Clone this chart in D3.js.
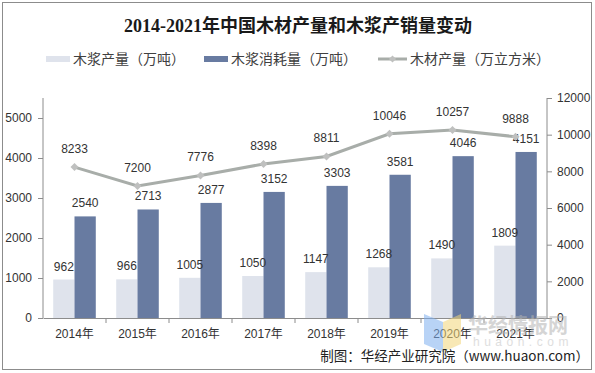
<!DOCTYPE html>
<html>
<head>
<meta charset="utf-8">
<script src="https://cdn.jsdelivr.net/npm/d3@7"></script>
<style>
  body { margin: 0; background: #fff; }
  svg text { font-family: "Liberation Sans", Arial, "Noto Sans CJK SC", sans-serif; }
</style>
</head>
<body>
<div id="chart"></div>
<script>
// data
const years = ['2014年', '2015年', '2016年', '2017年', '2018年', '2019年', '2020年', '2021年'];
const pulpOutput = [962, 966, 1005, 1050, 1147, 1268, 1490, 1809];        // 木浆产量（万吨）
const pulpConsumption = [2540, 2713, 2877, 3152, 3303, 3581, 4046, 4151];  // 木浆消耗量（万吨）
const woodOutput = [8233, 7200, 7776, 8398, 8811, 10046, 10257, 9888];    // 木材产量（万立方米）
const leftTicks = [0, 1000, 2000, 3000, 4000, 5000];
const rightTicks = [0, 2000, 4000, 6000, 8000, 10000, 12000];

const width = 595, height = 373;
const lightColor = '#dfe3ec', darkColor = '#687ba1';
const lineColor = '#a8ada9', markerColor = '#bfc0bf';
const axisColor = '#8c8c8c', textColor = '#333';

const svg = d3.select('#chart').append('svg')
  .attr('width', width)
  .attr('height', height);

// outer frame
svg.append('rect')
  .attr('x', 2.5).attr('y', 2.5)
  .attr('width', 589).attr('height', 367)
  .attr('fill', 'none').attr('stroke', axisColor);

// scales
const x = d3.scaleBand().domain(years).range([43, 547]).paddingInner(0).paddingOuter(0);
const xSub = d3.scaleBand().domain(['pulp', 'cons']).range([0, x.bandwidth()])
  .paddingInner(0).paddingOuter(0.48);
const yLeft = d3.scaleLinear().domain([0, 5500]).range([318, 98]);
const yRight = d3.scaleLinear().domain([0, 12000]).range([318, 98]);

// title
svg.append('text')
  .attr('x', 298).attr('y', 32)
  .attr('text-anchor', 'middle')
  .style('font-family', '"Liberation Serif", "Noto Sans CJK SC", serif')
  .style('font-size', '18px').style('font-weight', 'bold')
  .attr('fill', '#1a1a1a')
  .text('2014-2021年中国木材产量和木浆产销量变动');

// legend
const legend = svg.append('g').style('font-family', '"Noto Sans CJK SC", sans-serif');
const legY = 59;
legend.append('rect').attr('x', 46).attr('y', legY - 3).attr('width', 24).attr('height', 6).attr('fill', lightColor);
legend.append('text').attr('x', 73).attr('y', legY + 5).style('font-size', '14px').attr('fill', '#404040').text('木浆产量（万吨）');
legend.append('rect').attr('x', 204).attr('y', legY - 3).attr('width', 24).attr('height', 6).attr('fill', darkColor);
legend.append('text').attr('x', 231).attr('y', legY + 5).style('font-size', '14px').attr('fill', '#404040').text('木浆消耗量（万吨）');
legend.append('line').attr('x1', 378).attr('x2', 407).attr('y1', legY).attr('y2', legY)
  .attr('stroke', lineColor).attr('stroke-width', 3);
legend.append('path').attr('d', d3.symbol(d3.symbolSquare, 26)())
  .attr('transform', `translate(392.5,${legY}) rotate(45)`).attr('fill', markerColor);
legend.append('text').attr('x', 410).attr('y', legY + 5).style('font-size', '14px').attr('fill', '#404040').text('木材产量（万立方米）');

// bars
const groups = svg.append('g').selectAll('g')
  .data(years)
  .join('g')
  .attr('transform', d => `translate(${x(d)},0)`);

groups.append('rect')
  .attr('x', xSub('pulp'))
  .attr('y', (d, i) => yLeft(pulpOutput[i]))
  .attr('width', xSub.bandwidth())
  .attr('height', (d, i) => yLeft(0) - yLeft(pulpOutput[i]))
  .attr('fill', lightColor);

groups.append('rect')
  .attr('x', xSub('cons'))
  .attr('y', (d, i) => yLeft(pulpConsumption[i]))
  .attr('width', xSub.bandwidth())
  .attr('height', (d, i) => yLeft(0) - yLeft(pulpConsumption[i]))
  .attr('fill', darkColor);

// axes
const axLeft = svg.append('g')
  .attr('transform', 'translate(43,0)')
  .call(d3.axisLeft(yLeft).tickValues(leftTicks).tickFormat(d3.format('d')).tickSize(5).tickPadding(6));
const axRight = svg.append('g')
  .attr('transform', 'translate(547,0)')
  .call(d3.axisRight(yRight).tickValues(rightTicks).tickFormat(d3.format('d')).tickSize(5).tickPadding(5));
const axBottom = svg.append('g')
  .attr('transform', 'translate(0,318)')
  .call(d3.axisBottom(x).tickSize(0).tickPadding(11));

[axLeft, axRight, axBottom].forEach(ax => {
  ax.select('.domain').attr('stroke', axisColor);
  ax.selectAll('.tick line').attr('stroke', axisColor);
  ax.selectAll('.tick text').attr('fill', textColor)
    .style('font-size', '12px')
    .style('font-family', '"Liberation Sans", Arial, "Noto Sans CJK SC", sans-serif');
});
axLeft.select('.domain').attr('d', `M0,${yLeft.range()[1]}V${yLeft.range()[0]}`);
axRight.select('.domain').attr('d', `M0,${yRight.range()[1]}V${yRight.range()[0]}`);

// category boundary ticks on the x axis
svg.append('g').selectAll('line')
  .data(years.slice(1))
  .join('line')
  .attr('x1', d => x(d)).attr('x2', d => x(d))
  .attr('y1', 318).attr('y2', 323)
  .attr('stroke', axisColor);

// bar labels
groups.append('text')
  .attr('x', xSub('pulp') + xSub.bandwidth() / 2)
  .attr('y', (d, i) => yLeft(pulpOutput[i]) - 9)
  .attr('text-anchor', 'middle')
  .style('font-size', '12px').attr('fill', textColor)
  .text((d, i) => pulpOutput[i]);

groups.append('text')
  .attr('x', xSub('cons') + xSub.bandwidth() / 2)
  .attr('y', (d, i) => yLeft(pulpConsumption[i]) - 9)
  .attr('text-anchor', 'middle')
  .style('font-size', '12px').attr('fill', textColor)
  .text((d, i) => pulpConsumption[i]);

// line series on right axis
const line = d3.line()
  .x((d, i) => x(years[i]) + x.bandwidth() / 2)
  .y(d => yRight(d));

svg.append('path')
  .datum(woodOutput)
  .attr('d', line)
  .attr('fill', 'none')
  .attr('stroke', lineColor)
  .attr('stroke-width', 3);

svg.append('g').selectAll('path')
  .data(woodOutput)
  .join('path')
  .attr('d', d3.symbol(d3.symbolSquare, 32)())
  .attr('transform', (d, i) => `translate(${x(years[i]) + x.bandwidth() / 2},${yRight(d)}) rotate(45)`)
  .attr('fill', markerColor);

svg.append('g').selectAll('text')
  .data(woodOutput)
  .join('text')
  .attr('x', (d, i) => x(years[i]) + x.bandwidth() / 2)
  .attr('y', d => yRight(d) - 14)
  .attr('text-anchor', 'middle')
  .style('font-size', '12px').attr('fill', textColor)
  .text(d => d);

// watermark
const wm = svg.append('g').attr('opacity', 0.55);
wm.append('polygon').attr('points', '424,314 443,322 443,352 424,344').attr('fill', '#7fb0f0');
wm.append('polygon').attr('points', '443,322 461,314 461,344 443,352').attr('fill', '#f3d77a');
wm.append('text').attr('x', 468).attr('y', 333)
  .style('font-family', '"Noto Sans CJK SC", sans-serif')
  .style('font-size', '20px').style('font-weight', 'bold')
  .attr('fill', '#b4b4b4').text('华经情报网');
wm.append('text').attr('x', 473).attr('y', 346)
  .style('font-size', '12px').style('letter-spacing', '4.5px')
  .attr('fill', '#c4c4c4').text('huaon.com');

// source
svg.append('text')
  .attr('x', 589).attr('y', 361)
  .attr('text-anchor', 'end')
  .style('font-family', '"Noto Sans CJK SC", sans-serif')
  .style('font-size', '13.5px').attr('fill', '#222')
  .text('制图：华经产业研究院（www.huaon.com）');
</script>
</body>
</html>
